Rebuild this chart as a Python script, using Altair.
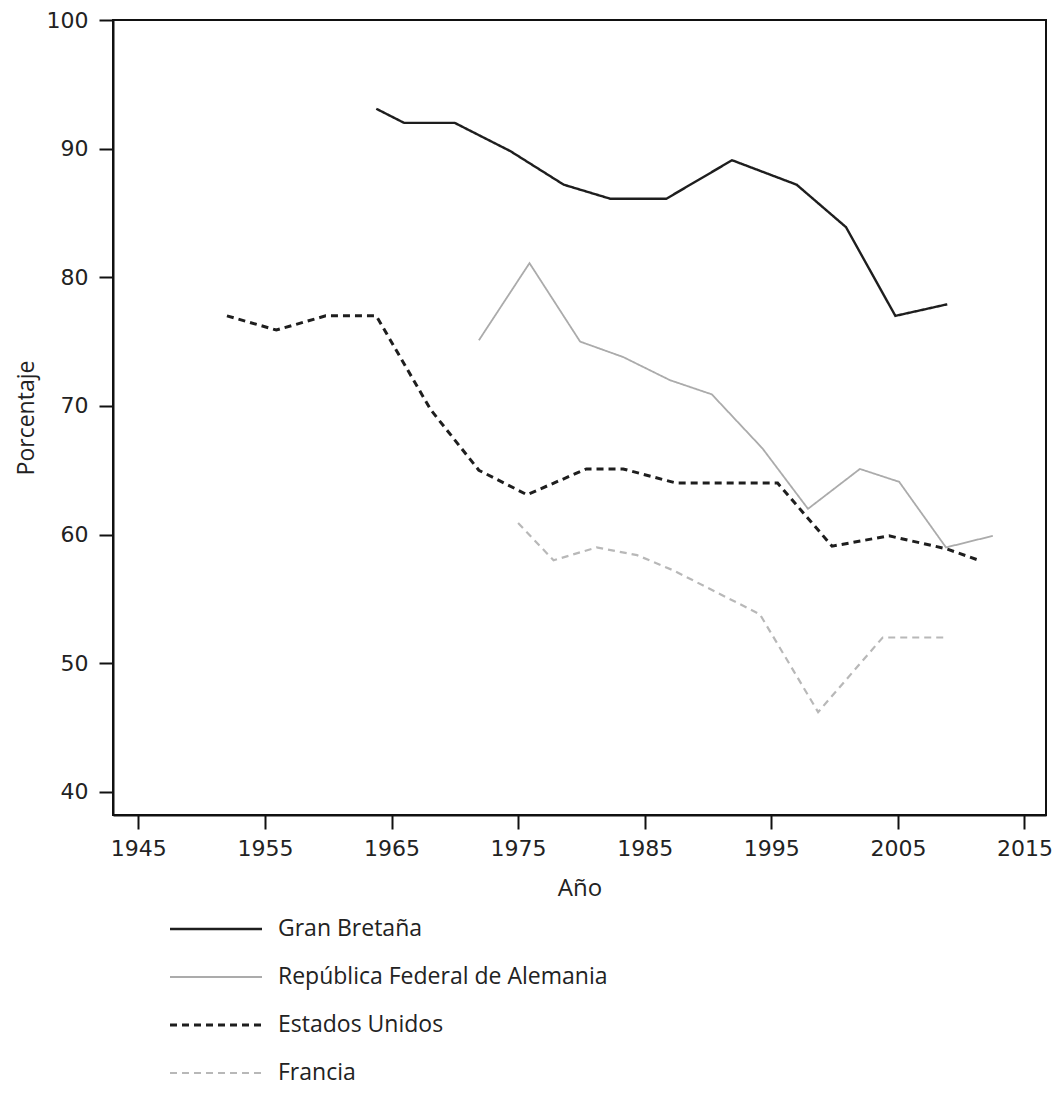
import altair as alt
import pandas as pd

# ---- data ----
series = ["Gran Bretaña", "República Federal de Alemania", "Estados Unidos", "Francia"]

gb_years = [1963.8, 1966.0, 1970.0, 1974.4, 1978.6, 1982.3, 1986.7, 1991.9, 1997.0, 2000.9, 2004.8, 2008.9]
gb_vals = [93.1, 92.0, 92.0, 89.8, 87.2, 86.1, 86.1, 89.1, 87.2, 83.9, 77.0, 77.9]

de_years = [1971.9, 1975.9, 1979.9, 1983.3, 1987.0, 1990.3, 1994.3, 1997.9, 2002.0, 2005.1, 2008.8, 2012.5]
de_vals = [75.1, 81.1, 75.0, 73.8, 72.0, 70.9, 66.7, 62.0, 65.1, 64.1, 59.0, 59.9]

us_years = [1952.0, 1955.9, 1959.8, 1963.8, 1968.1, 1971.9, 1975.7, 1980.4, 1983.3, 1987.5, 1995.5, 1999.8, 2004.3, 2008.8, 2011.4]
us_vals = [77.0, 75.9, 77.0, 77.0, 69.7, 65.0, 63.1, 65.1, 65.1, 64.0, 64.0, 59.1, 59.9, 58.9, 58.0]

fr_years = [1975.0, 1977.8, 1981.2, 1984.4, 1987.3, 1990.7, 1994.1, 1998.7, 2003.8, 2008.8]
fr_vals = [60.9, 58.0, 59.0, 58.4, 57.2, 55.5, 53.8, 46.2, 52.0, 52.0]

x_ticks = [1945, 1955, 1965, 1975, 1985, 1995, 2005, 2015]
y_ticks = [40, 50, 60, 70, 80, 90, 100]

colors = ["#1e1e1e", "#ababab", "#1e1e1e", "#b8b8b8"]
dashes = [[1, 0], [1, 0], [7, 5], [7, 5]]
widths = [2.4, 1.8, 3.0, 2.2]

all_years = [gb_years, de_years, us_years, fr_years]
all_vals = [gb_vals, de_vals, us_vals, fr_vals]

rows = []
for name, ys, vs in zip(series, all_years, all_vals):
    for y, v in zip(ys, vs):
        rows.append({"serie": name, "year": y, "value": v})
df = pd.DataFrame(rows)

leg_df = pd.DataFrame({"serie": series, "idx": list(range(len(series)))})

W, H = 933, 795
LEG_Y0, LEG_DY = 909, 48

x_enc = alt.X("year:Q",
              scale=alt.Scale(domain=[1943.0, 2016.7], nice=False, zero=False),
              axis=alt.Axis(values=x_ticks, format="d", title="Año", grid=False,
                            titlePadding=17, labelPadding=9))
y_enc = alt.Y("value:Q",
              scale=alt.Scale(domain=[38.2, 100], nice=False, zero=False),
              axis=alt.Axis(values=y_ticks, title="Porcentaje", grid=False,
                            titlePadding=8, titleFontSize=23, labelPadding=11))

layers = []
for i, name in enumerate(series):
    layers.append(
        alt.Chart(df).transform_filter(alt.datum.serie == name).mark_line(
            color=colors[i], strokeDash=dashes[i], strokeWidth=widths[i]
        ).encode(x=x_enc, y=y_enc, order="year:Q")
    )

for i, name in enumerate(series):
    base = alt.Chart(leg_df).transform_filter(alt.datum.serie == name).transform_calculate(
        ly=f"{LEG_Y0} + {LEG_DY} * datum.idx")
    layers.append(
        base.mark_rule(color=colors[i], strokeDash=dashes[i], strokeWidth=widths[i]).encode(
            x=alt.value(57), x2=alt.value(149), y=alt.Y("ly:Q", scale=None))
    )

leg_text = alt.Chart(leg_df).transform_calculate(ly=f"{LEG_Y0} + {LEG_DY} * datum.idx").mark_text(
    align="left", baseline="middle", font="Open Sans", fontSize=23, color="#222222"
).encode(x=alt.value(165), y=alt.Y("ly:Q", scale=None), text="serie:N")
layers.append(leg_text)

chart = alt.layer(*layers).properties(
    width=W, height=H,
    autosize=alt.AutoSizeParams(type="none"),
    padding={"left": 105, "top": 12, "right": 7, "bottom": 274},
).configure_view(
    stroke="#111111", strokeWidth=2
).configure_axis(
    domainColor="#111111", domainWidth=2,
    tickColor="#111111", tickWidth=2, tickSize=14,
    labelFont="DejaVu Sans", labelFontSize=22, labelColor="#222222",
    titleFont="Open Sans", titleFontSize=24, titleFontWeight="normal",
    titleColor="#222222",
)

chart.save("out.html", embed_options={"renderer": "svg", "actions": False})
